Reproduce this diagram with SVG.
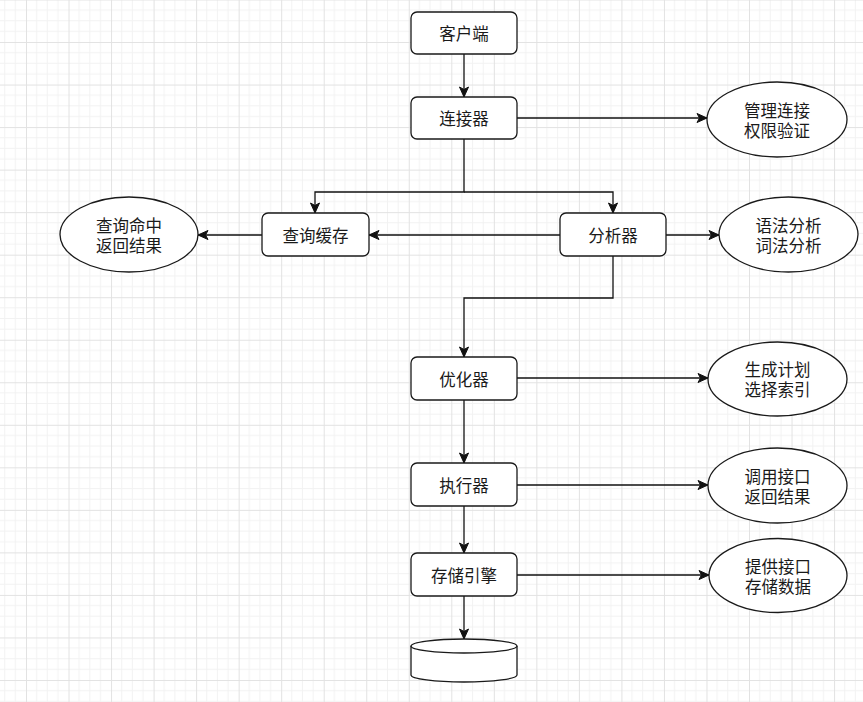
<svg xmlns="http://www.w3.org/2000/svg" width="863" height="702" viewBox="0 0 863 702">
<defs>
<pattern id="grid" patternUnits="userSpaceOnUse" x="26" y="-0.5" width="42.53" height="42.53">
<path d="M10.63,0V42.53M21.27,0V42.53M31.9,0V42.53M0,10.63H42.53M0,21.27H42.53M0,31.9H42.53" stroke="#f2f2f2" stroke-width="1" fill="none"/>
<path d="M0.5,0V42.53M0,0.5H42.53" stroke="#e2e2e2" stroke-width="1" fill="none"/>
</pattern>
<marker id="arr" markerUnits="userSpaceOnUse" markerWidth="12" markerHeight="12" viewBox="0 0 12 12" refX="11" refY="6" orient="auto">
<path d="M1,1.5 L11,6 L1,10.5 L3.5,6 Z" fill="#111" stroke="#111" stroke-width="1"/>
</marker>
</defs>
<style>
.box{fill:#fff;stroke:#1a1a1a;stroke-width:1.3}
.el{fill:#fff;stroke:#1a1a1a;stroke-width:1.3}
.t{font-family:"Noto Sans CJK SC","Noto Sans",sans-serif;font-size:16.5px;fill:#1a1a1a;text-anchor:middle;dominant-baseline:central}
.c{fill:none;stroke:#111;stroke-width:1.3}
</style>
<rect width="863" height="702" fill="#fff"/>
<rect width="863" height="702" fill="url(#grid)"/>
<g id="connectors">
<path class="c" d="M464,54V97" marker-end="url(#arr)"/>
<path class="c" d="M517,118H707" marker-end="url(#arr)"/>
<path class="c" d="M464,139V192H315V213" marker-end="url(#arr)"/>
<path class="c" d="M464,192H613V213" marker-end="url(#arr)"/>
<path class="c" d="M560,235H369" marker-end="url(#arr)"/>
<path class="c" d="M262,235H198" marker-end="url(#arr)"/>
<path class="c" d="M666,235H719" marker-end="url(#arr)"/>
<path class="c" d="M613,256V298H464V357" marker-end="url(#arr)"/>
<path class="c" d="M517,378H708" marker-end="url(#arr)"/>
<path class="c" d="M464,400V463" marker-end="url(#arr)"/>
<path class="c" d="M517,485H708" marker-end="url(#arr)"/>
<path class="c" d="M464,506V553" marker-end="url(#arr)"/>
<path class="c" d="M517,575H709" marker-end="url(#arr)"/>
<path class="c" d="M464,596V639" marker-end="url(#arr)"/>
</g>
<g id="client"><rect class="box" x="411" y="12" width="106" height="42" rx="6"/><text class="t" x="464" y="33">客户端</text></g>
<g id="connector"><rect class="box" x="411" y="97" width="106" height="42" rx="6"/><text class="t" x="464" y="118">连接器</text></g>
<g id="cache"><rect class="box" x="262" y="213" width="107" height="43" rx="6"/><text class="t" x="315.5" y="234.5">查询缓存</text></g>
<g id="analyzer"><rect class="box" x="560" y="213" width="106" height="43" rx="6"/><text class="t" x="613" y="234.5">分析器</text></g>
<g id="optimizer"><rect class="box" x="411" y="357" width="106" height="43" rx="6"/><text class="t" x="464" y="378.5">优化器</text></g>
<g id="executor"><rect class="box" x="411" y="463" width="106" height="43" rx="6"/><text class="t" x="464" y="484.5">执行器</text></g>
<g id="engine"><rect class="box" x="411" y="553" width="106" height="43" rx="6"/><text class="t" x="464" y="574.5">存储引擎</text></g>
<g id="storage"><path class="box" d="M411,646a53,7 0 0 1 106,0v29a53,7 0 0 1 -106,0z"/><path class="box" fill="none" d="M411,646a53,7 0 0 0 106,0"/></g>
<g id="e-conn"><ellipse class="el" cx="777" cy="119.5" rx="70" ry="37.5"/><text class="t" x="777" y="109.5">管理连接</text><text class="t" x="777" y="129.5">权限验证</text></g>
<g id="e-hit"><ellipse class="el" cx="129" cy="234.5" rx="69" ry="37.5"/><text class="t" x="129" y="224.5">查询命中</text><text class="t" x="129" y="244.5">返回结果</text></g>
<g id="e-parse"><ellipse class="el" cx="788.5" cy="234.5" rx="69.5" ry="37.5"/><text class="t" x="788.5" y="224.5">语法分析</text><text class="t" x="788.5" y="244.5">词法分析</text></g>
<g id="e-plan"><ellipse class="el" cx="777.5" cy="379" rx="69.5" ry="37"/><text class="t" x="777.5" y="369">生成计划</text><text class="t" x="777.5" y="389">选择索引</text></g>
<g id="e-call"><ellipse class="el" cx="777.5" cy="485.5" rx="69.5" ry="37.5"/><text class="t" x="777.5" y="475.5">调用接口</text><text class="t" x="777.5" y="495.5">返回结果</text></g>
<g id="e-store"><ellipse class="el" cx="778" cy="575.5" rx="69" ry="37"/><text class="t" x="778" y="565.5">提供接口</text><text class="t" x="778" y="585.5">存储数据</text></g>
</svg>
